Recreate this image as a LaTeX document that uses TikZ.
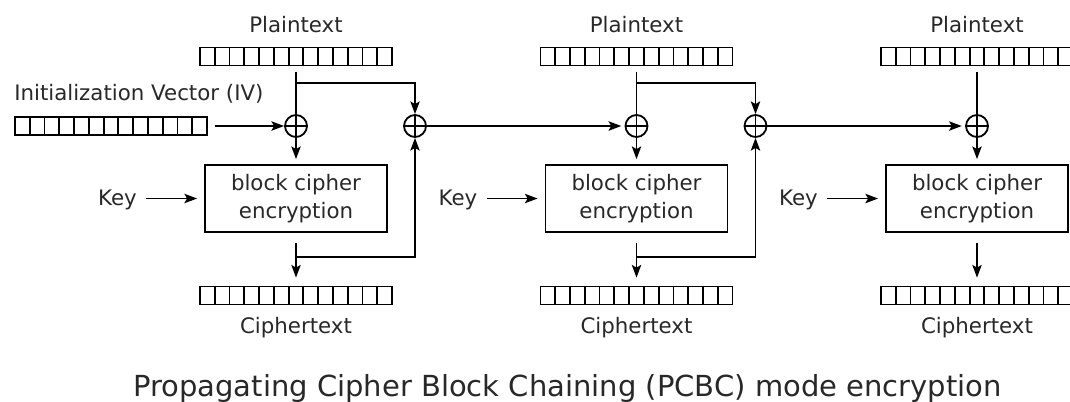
\documentclass[tikz,border=0pt]{standalone}
\usepackage{fontspec}
\setmainfont{DejaVu Sans}
\usetikzlibrary{arrows.meta,calc}
\definecolor{txt}{RGB}{40,40,40}
\tikzset{
  ln/.style={line width=1.35pt},
  arr/.style={ln,-{Stealth[length=9.5pt,width=7pt,inset=2pt]}},
  lbl/.style={text=txt,font=\fontsize{16}{21}\selectfont,inner sep=0pt},
  bar/.style={draw,line width=1.35pt,minimum width=144pt,minimum height=13.5pt,inner sep=0pt,
    path picture={\foreach \k in {1,...,12}{
      \draw[line width=1.35pt] ($(path picture bounding box.south west)!\k/13!(path picture bounding box.south east)$) -- ++(0,20pt);}}},
  xor/.style={draw,circle,line width=1.35pt,minimum size=16.5pt,inner sep=0pt,
    path picture={\draw[line width=1.35pt] (path picture bounding box.north) -- (path picture bounding box.south)
      (path picture bounding box.west) -- (path picture bounding box.east);}},
  cbox/.style={draw,line width=1.35pt,minimum width=136.5pt,minimum height=50.25pt,align=center,
    text=txt,font=\fontsize{16}{21}\selectfont,inner sep=0pt},
}
\begin{document}
\begin{tikzpicture}[x=0.75pt,y=-0.75pt]
\useasboundingbox (0,0) rectangle (1070,401);
% IV
\node[lbl,anchor=base west] (ivl) at (14,100) {Initialization Vector (IV)};
\node[bar] (iv) at (111,126) {};
\foreach \i/\dx in {1/0,2/340.5,3/681}{
  \pgfmathsetmacro{\c}{296+\dx}
  \node[lbl,anchor=base] (pl\i) at (\c,32) {Plaintext};
  \node[bar] (p\i) at (\c,56.5) {};
  \node[xor] (xa\i) at (\c,126) {};
  \node[cbox] (bc\i) at (\c,198.5) {block cipher\\encryption};
  \node[bar] (c\i) at (\c,295.5) {};
  \node[lbl,anchor=base] (cl\i) at (\c,333) {Ciphertext};
  \node[lbl,anchor=base east] (k\i) at (\c-159,205) {Key};
  \draw[ln,shorten <=4pt] (p\i.south) -- (xa\i.north);
  \draw[arr,shorten >=3.75pt] (xa\i.south) -- (bc\i.north);
  \draw[arr,shorten <=7.5pt,shorten >=6pt] (bc\i.south) -- (c\i.north);
  \draw[arr,shorten <=6.75pt,shorten >=5.25pt] (k\i.east |- bc\i.west) -- (bc\i.west);
}
\foreach \i/\dx in {1/0,2/340.5}{
  \pgfmathsetmacro{\c}{296+\dx}
  \node[xor] (xb\i) at (\c+119,126) {};
  \coordinate (bp\i) at (\c,83);
  \coordinate (bc\i b) at (\c,257);
  \draw[arr] (bp\i) -| (xb\i.north);
  \draw[arr] (bc\i b) -| (xb\i.south);
}
\draw[arr,shorten <=5pt] (iv.east) -- (xa1.west);
\draw[arr,shorten >=2.5pt] (xb1.east) -- (xa2.west);
\draw[arr,shorten >=2.5pt] (xb2.east) -- (xa3.west);
\node[text=txt,font=\fontsize{21.75}{26}\selectfont,anchor=base,inner sep=0pt] (title) at (567.5,396)
  {Propagating Cipher Block Chaining (PCBC) mode encryption};
\end{tikzpicture}
\end{document}
